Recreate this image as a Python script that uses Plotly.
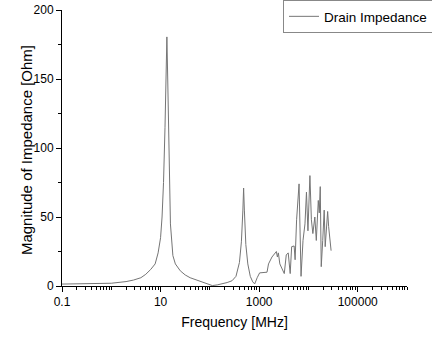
import plotly.graph_objects as go

# log10 of frequency [MHz] and impedance magnitude [Ohm]
log_freq = [
    -1.0, -0.5, 0.0, 0.3, 0.45, 0.6, 0.7, 0.8, 0.89, 0.95, 1.0, 1.03, 1.06, 1.09, 1.11, 1.128,
    1.145, 1.17, 1.2, 1.25, 1.3, 1.4, 1.5, 1.6, 1.75, 1.9, 2.0, 2.05, 2.15, 2.25, 2.35, 2.45,
    2.53, 2.6, 2.64, 2.67, 2.685, 2.70, 2.73, 2.77, 2.82, 2.87, 2.91, 2.96, 3.01, 3.16,
    3.19, 3.26, 3.35, 3.37, 3.39, 3.42, 3.51, 3.55, 3.59, 3.63, 3.66, 3.71, 3.73, 3.76,
    3.81, 3.85, 3.89, 3.93, 3.96, 3.99, 4.03, 4.06, 4.09, 4.13, 4.16, 4.20, 4.22, 4.24,
    4.26, 4.29, 4.32, 4.34, 4.37, 4.39, 4.41, 4.43, 4.46,
]
impedance = [
    1.4, 1.5, 2.0, 3.2, 4.3, 6.0, 8.5, 12, 16, 24, 35, 50, 75, 115, 150, 180.5,
    150, 100, 45, 22, 16, 11, 8, 6, 4, 2.5, 1.2, 0.3, 0.8, 1.5, 2.5, 3.8,
    7, 17, 32, 55, 71, 55, 30, 16, 7, 3, 1.5, 6, 9.5, 10,
    16, 21, 25, 21, 24, 16, 9, 22.5, 24, 9, 28.5, 29, 19, 48,
    74, 7, 33, 45, 68, 40, 80, 48, 38, 50, 33, 62, 53, 72,
    14, 33, 55, 28.5, 45, 54, 43, 35, 25.6,
]
freq = [10 ** v for v in log_freq]

x_tickvals = [0.1, 10, 1000, 100000]
x_ticktext = ["0.1", "10", "1000", "100000"]
y_tickvals = [0, 50, 100, 150, 200]

fig = go.Figure()
fig.add_trace(go.Scatter(
    x=freq, y=impedance, mode="lines", name="Drain Impedance",
    line=dict(color="#757575", width=1),
))

font_family = "Liberation Sans, Arial, sans-serif"
fig.update_layout(
    width=432, height=337,
    margin=dict(l=62, r=25, t=10, b=51, autoexpand=False),
    paper_bgcolor="white", plot_bgcolor="white",
    font=dict(family=font_family, color="black", size=12),
    showlegend=True,
    legend=dict(
        x=0.6406, y=1.036, xanchor="left", yanchor="top",
        bordercolor="#888888", borderwidth=1, bgcolor="white",
        font=dict(size=13.5), tracegroupgap=0,
    ),
    xaxis=dict(
        type="log", range=[-1, 6],
        tickvals=x_tickvals, ticktext=x_ticktext,
        ticks="outside", ticklen=5, tickwidth=1, tickcolor="black",
        showline=True, linecolor="black", linewidth=1,
        showgrid=False, zeroline=False,
        minor=dict(dtick="D1", ticks="outside", ticklen=3, tickcolor="black", showgrid=False),
        title=dict(text="Frequency [MHz]", font=dict(size=14), standoff=8),
        tickfont=dict(size=12),
    ),
    yaxis=dict(
        range=[0, 200],
        tickvals=y_tickvals,
        ticks="outside", ticklen=5, tickwidth=1, tickcolor="black",
        showline=True, linecolor="black", linewidth=1,
        showgrid=False, zeroline=False,
        minor=dict(dtick=25, ticks="outside", ticklen=3, tickcolor="black", showgrid=False),
        tickfont=dict(size=12),
    ),
    annotations=[dict(
        text="Magnitude of Impedance [Ohm]", xref="paper", yref="paper",
        x=-0.101, y=0.493, xanchor="center", yanchor="middle",
        textangle=-90, showarrow=False, font=dict(size=15),
    )],
)

fig.write_html("out.html")
